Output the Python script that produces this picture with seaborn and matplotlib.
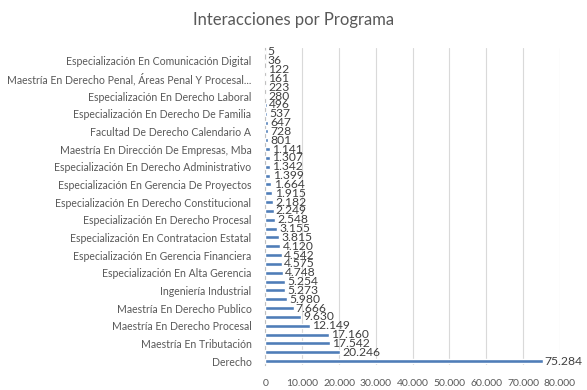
import matplotlib
matplotlib.use("Agg")
import matplotlib.pyplot as plt
import seaborn as sns
import pandas as pd

# Values from bottom (Derecho) to top; only every second program name is shown in the chart
values = [75284, 20246, 17542, 17160, 12149, 9630, 7666, 5980, 5273, 5254,
          4748, 4575, 4542, 4120, 3815, 3155, 2548, 2249, 2182, 1915,
          1664, 1399, 1342, 1307, 1141, 801, 728, 647, 537, 496,
          280, 223, 161, 122, 36, 5]
shown_labels = ["Derecho", "Maestría En Tributación", "Maestría En Derecho Procesal",
                "Maestría En Derecho Publico", "Ingeniería Industrial",
                "Especialización En Alta Gerencia", "Especialización En Gerencia Financiera",
                "Especialización En Contratacion Estatal", "Especialización En Derecho Procesal",
                "Especialización En Derecho Constitucional", "Especialización En Gerencia De Proyectos",
                "Especialización En Derecho Administrativo", "Maestría En Dirección De Empresas, Mba",
                "Facultad De Derecho Calendario A", "Especialización En Derecho De Familia",
                "Especialización En Derecho Laboral",
                "Maestría En Derecho Penal, Áreas Penal Y Procesal...",
                "Especialización En Comunicación Digital"]
x_ticks = [0, 10000, 20000, 30000, 40000, 50000, 60000, 70000, 80000]

n = len(values)
pos = [str(i) for i in range(n)]
order = pos[::-1]  # first item at the bottom
df = pd.DataFrame({"pos": pos, "value": values})

sns.set_theme(style="white")
plt.rcParams["font.family"] = ["Lato", "DejaVu Sans"]
fig = plt.figure(figsize=(5.87, 3.90), dpi=100)
ax = fig.add_axes([0.452, 0.063, 0.502, 0.815])

sns.barplot(data=df, y="pos", x="value", order=order, orient="h",
            color="#4F7DB8", saturation=1, width=0.45, ax=ax, zorder=3)

txt = "#595959"
for i, v in enumerate(values):
    ax.text(v + 600, str(i), f"{v:,}".replace(",", "."), va="center", ha="left",
            fontsize=8.7, color="#404040", zorder=4)

ax.set_xlim(0, 80000)
ax.set_xticks(x_ticks)
ax.set_xticklabels([f"{t:,}".replace(",", ".") for t in x_ticks], fontsize=7.5, color=txt)
ax.xaxis.grid(True, color="#d9d9d9", linewidth=0.8, zorder=0)
ax.yaxis.grid(False)

tick_pos = [str(i) for i in range(0, n, 2)]
ax.set_yticks(tick_pos)
ax.set_yticklabels(shown_labels, fontsize=7.6, color=txt)
ax.tick_params(axis="both", length=0, pad=10)
ax.tick_params(axis="x", pad=10)
ax.set_xlabel("")
ax.set_ylabel("")
for s in ["top", "right", "bottom"]:
    ax.spines[s].set_visible(False)
ax.spines["left"].set_color("#bfbfbf")
ax.spines["left"].set_linewidth(0.8)

fig.text(0.5, 0.948, "Interacciones por Programa", ha="center", va="center",
         fontsize=12, color=txt)

fig.savefig("out.png", dpi=100)
